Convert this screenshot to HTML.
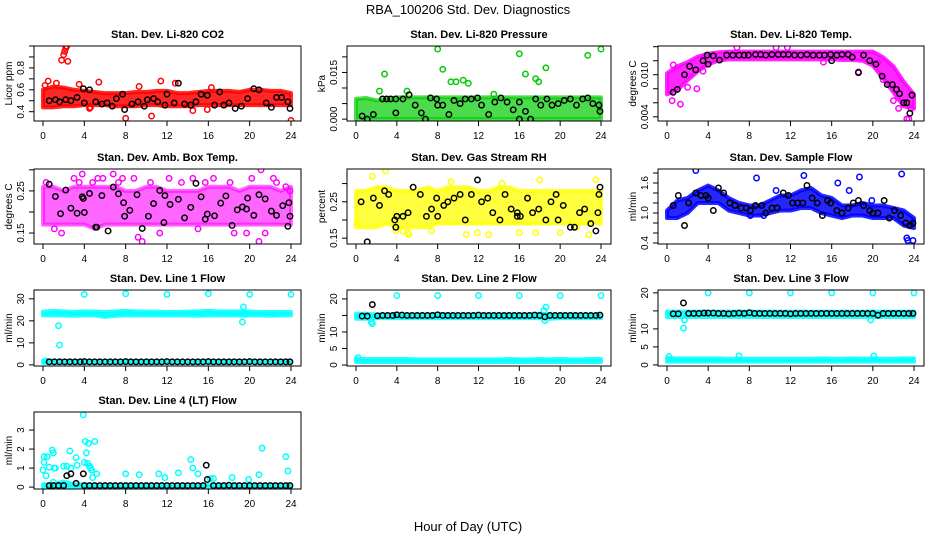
<!DOCTYPE html>
<html><head><meta charset="utf-8"><style>
body{margin:0;background:#fff;}
svg text{font-family:"Liberation Sans",sans-serif;}
</style></head><body>
<svg id="c" width="936" height="540" xmlns="http://www.w3.org/2000/svg">
<text x="468" y="14" text-anchor="middle" font-size="13">RBA_100206  Std. Dev. Diagnostics</text>
<text x="468" y="531" text-anchor="middle" font-size="13">Hour of Day (UTC)</text>
</svg>
<script>
// ---- shared category axis ----
const bandHours = [0,1,2,3,4,5,6,7,8,9,10,11,12,13,14,15,16,17,18,19,20,21,22,23,24];
const xTicks = [0,4,8,12,16,20,24];

// ---- CO2 ----
const co2Lo = [0.44,0.44,0.45,0.45,0.46,0.46,0.46,0.45,0.45,0.45,0.46,0.46,0.45,0.45,0.45,0.46,0.46,0.46,0.46,0.46,0.46,0.46,0.46,0.46,0.46];
const co2Hi = [0.6,0.63,0.62,0.6,0.59,0.58,0.57,0.57,0.57,0.58,0.58,0.59,0.59,0.57,0.57,0.58,0.59,0.59,0.59,0.58,0.6,0.6,0.59,0.59,0.57];
const co2X = [0.2,0.5,1.8,2.0,2.1,2.2,2.3,2.4,1.3,3.5,4.5,5.4,8.0,10.5,11.4,12.8,14.5,15.9,24.0,9.3,4.6,16.3];
const co2Y = [0.64,0.68,0.87,0.92,0.95,0.98,1.0,0.86,0.66,0.65,0.43,0.67,0.34,0.36,0.68,0.66,0.41,0.42,0.32,0.63,0.44,0.62];
const co2BX = [0.6,1.2,1.6,2.2,2.7,3.3,3.9,4.0,4.5,5.1,5.7,6.2,6.7,7.1,7.7,7.9,8.6,9.2,9.8,10.1,10.7,11.1,11.8,12.0,12.7,13.1,13.7,14.3,14.8,15.3,15.9,16.6,17.1,17.5,18.0,18.6,19.2,19.8,20.4,20.9,21.6,22.1,22.6,23.1,23.7,23.9];
const co2BY = [0.5,0.51,0.49,0.51,0.5,0.53,0.61,0.48,0.6,0.49,0.47,0.48,0.45,0.52,0.56,0.42,0.47,0.49,0.45,0.51,0.52,0.49,0.46,0.56,0.48,0.66,0.47,0.46,0.49,0.56,0.55,0.46,0.58,0.46,0.48,0.43,0.45,0.52,0.61,0.6,0.48,0.44,0.53,0.53,0.49,0.43];

// ---- Pressure ----
const prLo = [0,0,0,0,0,0,0,0,0,0,0,0,0,0,0,0,0,0,0,0,0,0,0,0,0];
const prHi = [0.0065,0.0068,0.006,0.0065,0.007,0.007,0.007,0.007,0.007,0.007,0.007,0.007,0.007,0.007,0.007,0.007,0.007,0.007,0.007,0.007,0.007,0.007,0.007,0.007,0.007];
const prX = [2.8,2.3,8.0,8.5,9.3,9.8,10.5,11.0,16.0,16.6,17.6,18.6,22.7,24.0,17.9,5.0,13.5];
const prY = [0.0145,0.009,0.0225,0.016,0.012,0.012,0.0125,0.0115,0.021,0.0145,0.013,0.0165,0.0205,0.0225,0.012,0.009,0.008];
const prBX = [0.6,1.1,1.7,2.6,3.0,3.4,3.9,3.9,4.6,5.2,5.8,6.4,6.8,7.3,7.9,8.0,8.5,9.1,9.6,10.2,10.7,11.3,11.9,12.3,13.0,13.6,14.2,14.8,15.4,16.0,16.0,16.6,17.1,17.6,18.1,18.7,19.2,19.8,20.4,21.0,21.6,22.2,22.7,23.2,23.8,23.9];
const prBY = [0.001,0,0.0015,0.0065,0.0065,0.0065,0.0065,0.002,0.0065,0.0078,0.0045,0.002,0,0.0068,0.0065,0.0045,0.0045,0.0015,0.006,0.005,0.0065,0.0065,0.0068,0.0045,0.0015,0.0055,0.0068,0.0055,0.003,0,0.0055,0.0025,0,0.0065,0.0045,0.0065,0.0045,0.005,0.006,0.0065,0.0045,0.0065,0.0068,0.005,0.0045,0.0025];

// ---- Li-820 Temp ----
const tpLo = [0.0072,0.0078,0.0092,0.0105,0.0115,0.012,0.0122,0.0122,0.0122,0.0122,0.0122,0.0122,0.0122,0.0122,0.0122,0.0122,0.0122,0.0121,0.0121,0.012,0.0113,0.0095,0.0075,0.0055,0.0052];
const tpHi = [0.0102,0.0112,0.0118,0.0126,0.013,0.0132,0.0133,0.0133,0.0133,0.0133,0.0133,0.0133,0.0133,0.0133,0.0133,0.0133,0.0133,0.0133,0.0133,0.0133,0.0133,0.0125,0.0112,0.009,0.0072];
const tpX = [0.5,1.3,2.9,3.5,6.8,10.6,11.7,20.5,21.0,22.0,22.5,23.3,23.5,23.7,0.6,2.0,15.2,18.6];
const tpY = [0.0063,0.0058,0.008,0.0105,0.0139,0.0139,0.0139,0.0117,0.0093,0.0063,0.0052,0.0037,0.0037,0.0052,0.0114,0.0082,0.0118,0.0104];
const tpBX = [0.6,1.0,1.7,2.2,2.8,3.5,3.9,4.0,4.5,5.1,5.8,6.4,7.0,7.5,7.9,8.6,9.1,9.6,10.2,10.8,11.3,11.8,12.4,13.0,13.6,14.2,14.8,15.3,15.9,16.0,16.5,17.0,17.6,18.0,18.6,19.1,19.7,20.3,20.9,21.4,21.9,22.3,22.6,23.0,23.3,23.6,23.8];
const tpY2 = [0.0075,0.0079,0.01,0.0112,0.0107,0.012,0.0128,0.0115,0.0127,0.0121,0.0128,0.0128,0.0128,0.0128,0.0128,0.0129,0.0129,0.0128,0.0129,0.0129,0.0129,0.0129,0.0128,0.0128,0.0129,0.0128,0.0128,0.0128,0.0129,0.012,0.0128,0.0129,0.0129,0.0125,0.0103,0.0128,0.012,0.0115,0.0098,0.0086,0.0086,0.0079,0.0073,0.006,0.006,0.0045,0.0071];

// ---- Amb Box Temp ----
const abLo = [0.17,0.17,0.17,0.17,0.17,0.16,0.17,0.17,0.17,0.17,0.17,0.17,0.17,0.17,0.17,0.17,0.17,0.17,0.17,0.17,0.17,0.17,0.17,0.17,0.17];
const abHi = [0.26,0.26,0.25,0.26,0.26,0.26,0.26,0.26,0.25,0.25,0.26,0.26,0.25,0.25,0.25,0.25,0.26,0.26,0.26,0.25,0.26,0.26,0.26,0.25,0.26];
const abX = [0.3,1.8,3.0,3.5,3.8,4.8,5.3,5.8,6.8,7.3,7.7,8.8,9.6,10.4,11.3,12.2,13.4,14.5,15.7,16.5,18.1,18.5,19.7,20.2,20.9,21.1,22.3,22.6,23.5,23.9,1.1,9.2,15.0,21.5];
const abY = [0.27,0.15,0.28,0.27,0.29,0.27,0.28,0.28,0.29,0.27,0.28,0.28,0.13,0.27,0.15,0.28,0.27,0.28,0.27,0.28,0.27,0.15,0.15,0.28,0.13,0.3,0.28,0.27,0.26,0.25,0.16,0.14,0.16,0.15];
const abBX = [0.6,1.2,1.7,2.2,2.7,3.3,3.8,3.9,4.0,4.5,5.1,5.2,5.7,6.3,6.8,7.3,7.8,7.9,8.4,9.1,9.6,10.2,10.7,11.3,11.7,11.8,12.3,13.1,13.7,14.3,14.8,15.3,15.7,15.9,16.6,17.2,17.7,18.3,18.8,19.3,19.7,19.8,20.4,20.9,21.5,22.1,22.6,23.2,23.7,23.8,23.9];
const abBY = [0.266,0.237,0.196,0.252,0.209,0.197,0.236,0.232,0.199,0.244,0.164,0.164,0.239,0.155,0.259,0.243,0.222,0.19,0.204,0.241,0.161,0.19,0.22,0.251,0.175,0.239,0.218,0.23,0.186,0.211,0.268,0.236,0.183,0.195,0.191,0.221,0.238,0.168,0.205,0.212,0.207,0.233,0.192,0.241,0.231,0.202,0.192,0.215,0.166,0.222,0.19];

// ---- Gas Stream RH ----
const rhLo = [0.18,0.18,0.18,0.19,0.18,0.18,0.18,0.18,0.19,0.19,0.19,0.19,0.19,0.19,0.19,0.19,0.19,0.19,0.19,0.19,0.19,0.19,0.19,0.19,0.19];
const rhHi = [0.28,0.28,0.29,0.29,0.28,0.28,0.28,0.29,0.28,0.29,0.29,0.29,0.28,0.28,0.29,0.29,0.28,0.28,0.28,0.28,0.28,0.28,0.28,0.28,0.28];
const rhX = [1.6,2.9,3.9,5.1,5.2,7.4,9.3,10.8,11.9,14.3,16.0,17.6,18.0,20.0,22.8,23.5,0.1,4.6,13.0,21.6];
const rhY = [0.32,0.335,0.17,0.165,0.16,0.17,0.305,0.16,0.165,0.3,0.165,0.165,0.31,0.165,0.16,0.31,0.19,0.17,0.16,0.18];
const rhBX = [0.5,1.1,1.7,2.3,2.8,3.2,3.8,3.9,4.0,4.6,5.1,5.6,6.3,6.9,7.4,7.9,8.0,8.6,9.0,9.6,10.2,10.7,11.3,11.9,12.3,12.9,13.4,14.1,14.6,15.2,15.8,15.8,16.1,16.8,17.3,17.9,18.6,19.1,19.6,19.8,20.3,21.0,21.4,21.9,22.4,23.0,23.5,23.7,23.8,23.9];
const rhBY = [0.25,0.14,0.26,0.24,0.28,0.27,0.2,0.18,0.21,0.21,0.22,0.29,0.27,0.21,0.23,0.26,0.21,0.24,0.25,0.26,0.27,0.2,0.27,0.31,0.25,0.26,0.22,0.2,0.27,0.23,0.22,0.21,0.21,0.26,0.22,0.23,0.2,0.25,0.27,0.2,0.24,0.18,0.18,0.22,0.23,0.19,0.17,0.22,0.27,0.29];

// ---- Sample Flow ----
const sfLo = [0.9,0.9,1.0,1.2,1.2,1.2,1.05,1.0,0.95,0.95,1.0,1.05,1.05,1.1,1.1,1.0,0.95,0.9,0.95,0.95,0.9,0.9,0.9,0.75,0.7];
const sfHi = [1.05,1.25,1.3,1.45,1.55,1.45,1.3,1.2,1.15,1.15,1.25,1.35,1.35,1.45,1.5,1.35,1.3,1.15,1.15,1.2,1.15,1.15,1.1,1.05,0.9];
const sfX = [2.8,8.7,13.3,16.6,18.7,22.8,23.3,23.4,23.9,19.9,17.7,8.1,9.4,10.6];
const sfY = [1.85,1.7,1.75,1.6,1.72,1.78,0.5,0.45,0.45,1.25,1.45,0.95,0.95,1.45];
const sfBX = [0.6,1.1,1.7,2.1,2.8,3.3,3.8,4.0,4.5,5.0,5.5,6.1,6.6,7.2,7.7,8.1,8.6,9.2,9.6,10.2,10.7,11.3,11.8,12.2,12.7,13.2,13.6,14.1,14.6,15.1,15.6,15.9,16.5,17.0,17.6,18.1,18.6,19.1,19.7,20.0,20.5,21.1,21.6,22.1,22.7,23.2,23.6,23.9];
const sfBY = [1.15,1.35,0.75,1.2,1.4,1.35,1.35,1.3,1.05,1.5,1.4,1.2,1.15,1.1,1.1,1.05,1.15,1.15,1.0,1.1,1.1,1.4,1.35,1.2,1.2,1.2,1.55,1.3,1.2,0.95,1.25,1.2,1.05,1.0,1.1,1.2,1.25,1.15,1.05,1.0,1.0,1.25,0.9,1.05,0.95,0.8,0.75,0.8];

// ---- Line 1 ----
const l1Lo = [22.5,22.5,22.5,22.3,22.5,22.5,21.8,22.3,22.5,22.5,22.5,22.5,22.5,22.5,22.5,22.3,22.5,22.5,22.5,22.5,22.5,22.5,22.3,22.5,22.5];
const l1Hi = [24.2,24.5,24.3,24.0,24.3,24.2,24.0,24.3,24.5,24.3,24.2,24.2,24.0,24.0,24.2,24.3,24.5,24.3,24.3,24.3,24.2,24.0,24.0,24.0,24.0];
const l1X = [4,8,12,16,20,24,1.5,1.6,19.3,19.4,19.6,0.3];
const l1Y = [32,32.3,32,32.3,32,32,17.8,9,19.5,26.3,23,1.8];
const l2X = [4,8,12,16,20,24,1.5,1.6,18.4,18.6,18.5,0.2];
const l2Y = [21,21,21,21,21,21,13,12.5,16.5,17.5,13.5,2.2];
const l3X = [4,8,12,16,20,24,1.6,1.7,19.8,0.2,7.0,20.1];
const l3Y = [20,20,20,20,20,20,10.2,12.5,12.5,2.3,2.5,2.5];
const lowLo = [0.9,0.9,0.9,0.9,0.9,0.9,0.9,0.9,0.9,0.9,0.9,0.9,0.9,0.9,0.9,0.9,0.9,0.9,0.9,0.9,0.9,0.9,0.9,0.9,0.9];
const lowHi = [2.0,1.8,1.8,1.8,1.8,1.8,1.7,1.7,1.7,1.7,1.7,1.7,1.7,1.7,1.7,1.8,1.7,1.7,1.8,1.7,1.8,1.7,1.7,1.8,1.8];
const l2Lo = [14.0,14.0,14.2,14.2,14.2,14.2,14.2,14.2,14.2,14.2,14.2,14.2,14.2,14.2,14.2,14.2,14.2,14.2,14.2,14.0,14.2,14.2,14.2,14.2,14.2];
const l2Hi = [15.5,15.5,15.3,15.3,15.3,15.3,15.3,15.3,15.5,15.3,15.3,15.3,15.3,15.3,15.3,15.3,15.3,15.3,15.5,15.3,15.3,15.3,15.3,15.3,15.3];
const l3Lo = [13.3,13.3,13.3,13.3,13.3,13.3,13.3,13.3,13.3,13.3,13.3,13.3,13.3,13.3,13.3,13.3,13.3,13.3,13.3,13.3,13.3,13.3,13.3,13.3,13.3];
const l3Hi = [14.8,14.8,14.8,14.8,14.8,14.8,14.8,14.8,14.8,14.8,14.8,14.8,14.8,14.8,14.8,14.8,14.8,14.8,14.8,14.8,14.8,14.8,14.8,14.8,14.8];
const lineBX = [0.6,1.1,1.6,2.1,2.6,3.1,3.6,4.0,4.5,5.0,5.5,6.0,6.5,7.0,7.5,8.0,8.5,9.0,9.5,10.0,10.5,11.0,11.5,12.0,12.5,13.0,13.5,14.0,14.5,15.0,15.5,16.0,16.5,17.0,17.5,18.0,18.5,19.0,19.5,20.0,20.5,21.0,21.5,22.0,22.5,23.0,23.5,23.9];
const l1BY = [1.4,1.4,1.4,1.4,1.4,1.4,1.4,1.5,1.4,1.4,1.4,1.4,1.4,1.4,1.4,1.5,1.4,1.4,1.4,1.4,1.4,1.4,1.4,1.5,1.4,1.4,1.4,1.4,1.4,1.4,1.4,1.5,1.4,1.4,1.4,1.4,1.4,1.4,1.4,1.5,1.4,1.4,1.4,1.4,1.4,1.4,1.4,1.4];
const l2BY = [14.8,14.8,18.3,14.9,15,15,15,15.2,15.1,15,15,15,15,15,15,15.2,15,15,15,15,15,15,15,15.1,15,15,15,15,15,15,15,15,15,15,15.1,15,14.6,15,15,15,15,15,15,15,15,15,15,15.1];
const l3BY = [14.2,14.2,17.2,14.3,14.3,14.3,14.4,14.4,14.4,14.3,14.3,14.2,14.3,14.4,14.3,14.5,14.3,14.3,14.3,14.3,14.3,14.3,14.3,14.2,14.3,14.3,14.3,14.3,14.3,14.3,14.3,14.3,14.3,14.3,14.3,14.3,14.3,14.3,14.3,14.3,13.8,14.3,14.3,14.3,14.3,14.3,14.3,14.3];

// ---- Line 4 ----
const l4Lo = [0,0,0,0,0,0,0,0,0,0,0,0,0,0,0,0,0,0,0,0,0,0,0,0,0];
const l4Hi = [0.15,0.15,0.3,0.15,0.15,0.12,0.12,0.12,0.12,0.12,0.12,0.12,0.12,0.12,0.12,0.12,0.12,0.12,0.12,0.12,0.12,0.12,0.12,0.12,0.12];
const l4X = [0,0.1,0.1,0.3,0.4,0.6,0.9,1.0,1.0,1.1,1.2,1.5,2.0,2.3,2.6,2.7,3.2,3.3,3.9,4.0,4.1,4.2,4.3,4.4,4.5,4.6,4.7,4.8,5.0,5.2,8.0,9.3,11.2,11.8,13.1,14.3,14.5,15.0,16.2,16.5,18.3,19.9,20.9,21.2,23.5,23.7];
const l4Y = [0.9,1.6,1.3,0.6,1.6,1.05,1.95,1.8,0.25,1.0,1.0,0.1,1.1,1.1,1.9,1.0,1.55,1.15,3.8,1.3,2.4,1.8,1.25,2.3,1.1,1.0,0.9,0.5,2.4,0.7,0.7,0.65,0.7,0.5,0.75,1.45,1.0,0.7,0.45,0.45,0.5,0.4,0.65,2.05,1.6,0.85];
const l4BX = [0.6,1.0,1.5,2.0,2.3,2.7,3.2,3.9,4.0,4.5,5.0,5.5,6.0,6.5,7.0,7.5,8.0,8.5,9.0,9.5,10.0,10.5,11.0,11.5,12.0,12.5,13.0,13.5,14.0,14.5,15.0,15.5,15.8,15.9,16.5,17.0,17.5,18.0,18.5,19.0,19.5,20.0,20.5,21.0,21.5,22.0,22.5,23.0,23.5,23.9];
const l4BY = [0.08,0.08,0.08,0.08,0.6,0.7,0.2,0.7,0.08,0.08,0.08,0.08,0.08,0.08,0.08,0.08,0.08,0.08,0.08,0.08,0.08,0.08,0.08,0.08,0.08,0.08,0.08,0.08,0.08,0.08,0.08,0.08,1.15,0.4,0.08,0.08,0.08,0.1,0.08,0.08,0.08,0.08,0.08,0.08,0.08,0.08,0.08,0.08,0.08,0.08];

const NS = 'http://www.w3.org/2000/svg';
const svg = document.getElementById('c');
function mk(tag, attrs, parent){const e=document.createElementNS(NS,tag);for(const k in attrs)e.setAttribute(k,attrs[k]);(parent||svg).appendChild(e);return e;}

const colL=[34,347,658], colR=[301,611,924];
const rowT=[46,169,290,412], rowB=[121,244,366,489];

function panel(cfg){
  const L=colL[cfg.col],R=colR[cfg.col],T=rowT[cfg.row],B=rowB[cfg.row];
  const g=mk('g',{});
  
  
  const x0=L+9,x1=R-10;
  const sx=v=>x0+(v/24)*(x1-x0);
  const sy=v=>B-(v-cfg.ymin)/(cfg.ymax-cfg.ymin)*(B-T);
  const clip='clip-'+cfg.name;
  const cp=mk('clipPath',{id:clip},g);mk('rect',{x:L,y:T,width:R-L,height:B-T},cp);
  const pg=mk('g',{'clip-path':'url(#'+clip+')'},g);
  // bands
  cfg.bands.forEach(([lo,hi,col],bi)=>{
    let pts=bandHours.map((h,i)=>sx(h)+','+sy(hi[i]));
    pts=pts.concat(bandHours.map((h,i)=>sx(h)+','+sy(lo[i])).reverse());
    const p=mk('polygon',{points:pts.join(' '),fill:col,'fill-opacity':cfg.bop||0.85,stroke:col,'stroke-width':4,'stroke-linejoin':'round','stroke-opacity':cfg.bop||0.85},pg);
    
    
  });
  (cfg.pts||[]).forEach(([xs,ys,col])=>{
    xs.forEach((xv,i)=>{
      const c=mk('circle',{cx:sx(xv),cy:sy(ys[i]),r:2.7,fill:'none',stroke:col,'stroke-width':1.5},pg);
      
      
    });
  });
  // box
  const box=mk('rect',{x:L,y:T,width:R-L,height:B-T,fill:'none',stroke:'#000','stroke-width':1},g);
  
  
  // x ticks
  xTicks.forEach(t=>{
    mk('line',{x1:sx(t),x2:sx(t),y1:B,y2:B+5,stroke:'#000'},g);
    const tx=mk('text',{x:sx(t),y:B+18,'text-anchor':'middle','font-size':10},g);
    tx.textContent=t;
    
    
  });
  cfg.yticks.forEach(t=>{
    mk('line',{x1:L-5,x2:L,y1:sy(t),y2:sy(t),stroke:'#000'},g);
  });
  cfg.ylabels.forEach(t=>{
    const tx=mk('text',{x:0,y:0,'text-anchor':'middle','font-size':10,transform:`translate(${L-10},${sy(t)}) rotate(-90)`},g);
    tx.textContent=typeof t==='number'?t.toFixed(cfg.dec):t;
    
    
  });
  const yl=mk('text',{x:0,y:0,'text-anchor':'middle','font-size':10,transform:`translate(${L-22},${(T+B)/2}) rotate(-90)`},g);
  yl.textContent=cfg.ylab;
  
  
  const ti=mk('text',{x:(L+R)/2,y:T-8,'text-anchor':'middle','font-size':11,'font-weight':'bold'},g);
  ti.textContent=cfg.title;
  
  
}

const RED='#ff0000',GRN='#00cc00',MAG='#ff00ff',YEL='#ffff00',BLU='#0000ff',CYN='#00ffff',BLK='#000';
panel({name:'co2',col:0,row:0,ymin:0.315,ymax:1.0,yticks:[0.4,0.5,0.6,0.7,0.8,0.9,1.0],ylabels:[0.4,0.6,0.8],dec:1,ylab:'Licor ppm',title:'Stan. Dev. Li-820 CO2',
  bands:[[co2Lo,co2Hi,RED]],pts:[[co2X,co2Y,RED],[co2BX,co2BY,BLK]]});
panel({name:'pressure',col:1,row:0,ymin:-0.0006,ymax:0.0235,yticks:[0,0.005,0.01,0.015,0.02],ylabels:[0,0.015],dec:3,ylab:'kPa',title:'Stan. Dev. Li-820 Pressure',
  bands:[[prLo,prHi,GRN]],bop:0.7,pts:[[prX,prY,GRN],[prBX,prBY,BLK]]});
panel({name:'li820-temp',col:2,row:0,ymin:0.0034,ymax:0.0141,yticks:[0.004,0.006,0.008,0.01,0.012,0.014],ylabels:[0.004,0.01],dec:3,ylab:'degrees C',title:'Stan. Dev. Li-820 Temp.',
  bands:[[tpLo,tpHi,MAG]],pts:[[tpX,tpY,MAG],[tpBX,tpY2,BLK]]});
panel({name:'amb-box-temp',col:0,row:1,ymin:0.124,ymax:0.302,yticks:[0.15,0.2,0.25,0.3],ylabels:[0.15,0.25],dec:2,ylab:'degrees C',title:'Stan. Dev. Amb. Box Temp.',
  bands:[[abLo,abHi,MAG]],bop:0.6,pts:[[abX,abY,MAG],[abBX,abBY,BLK]]});
panel({name:'gas-stream-rh',col:1,row:1,ymin:0.134,ymax:0.34,yticks:[0.15,0.2,0.25,0.3],ylabels:[0.15,0.25],dec:2,ylab:'percent',title:'Stan. Dev. Gas Stream RH',
  bands:[[rhLo,rhHi,YEL]],bop:0.75,pts:[[rhX,rhY,YEL],[rhBX,rhBY,BLK]]});
panel({name:'sample-flow',col:2,row:1,ymin:0.38,ymax:1.88,yticks:[0.4,0.6,0.8,1.0,1.2,1.4,1.6,1.8],ylabels:[0.4,1.0,1.6],dec:1,ylab:'ml/min',title:'Stan. Dev. Sample Flow',
  bands:[[sfLo,sfHi,BLU]],pts:[[sfX,sfY,BLU],[sfBX,sfBY,BLK]]});
panel({name:'line1-flow',col:0,row:2,ymin:-0.5,ymax:34,yticks:[0,10,20,30],ylabels:[0,10,20,30],dec:0,ylab:'ml/min',title:'Stan. Dev. Line 1 Flow',
  bands:[[l1Lo,l1Hi,CYN],[lowLo,lowHi,CYN]],pts:[[l1X,l1Y,CYN],[lineBX,l1BY,BLK]]});
panel({name:'line2-flow',col:1,row:2,ymin:-0.3,ymax:22.7,yticks:[0,5,10,15,20],ylabels:[0,5,10,20],dec:0,ylab:'ml/min',title:'Stan. Dev. Line 2 Flow',
  bands:[[l2Lo,l2Hi,CYN],[lowLo,lowHi,CYN]],pts:[[l2X,l2Y,CYN],[lineBX,l2BY,BLK]]});
panel({name:'line3-flow',col:2,row:2,ymin:-0.3,ymax:20.8,yticks:[0,5,10,15,20],ylabels:[0,5,10,20],dec:0,ylab:'ml/min',title:'Stan. Dev. Line 3 Flow',
  bands:[[l3Lo,l3Hi,CYN],[lowLo,lowHi,CYN]],pts:[[l3X,l3Y,CYN],[lineBX,l3BY,BLK]]});
panel({name:'line4-flow',col:0,row:3,ymin:-0.1,ymax:3.95,yticks:[0,1,2,3],ylabels:[0,1,2,3],dec:0,ylab:'ml/min',title:'Stan. Dev. Line 4 (LT) Flow',
  bands:[[l4Lo,l4Hi,CYN]],pts:[[l4X,l4Y,CYN],[l4BX,l4BY,BLK]]});
</script>
</body></html>
